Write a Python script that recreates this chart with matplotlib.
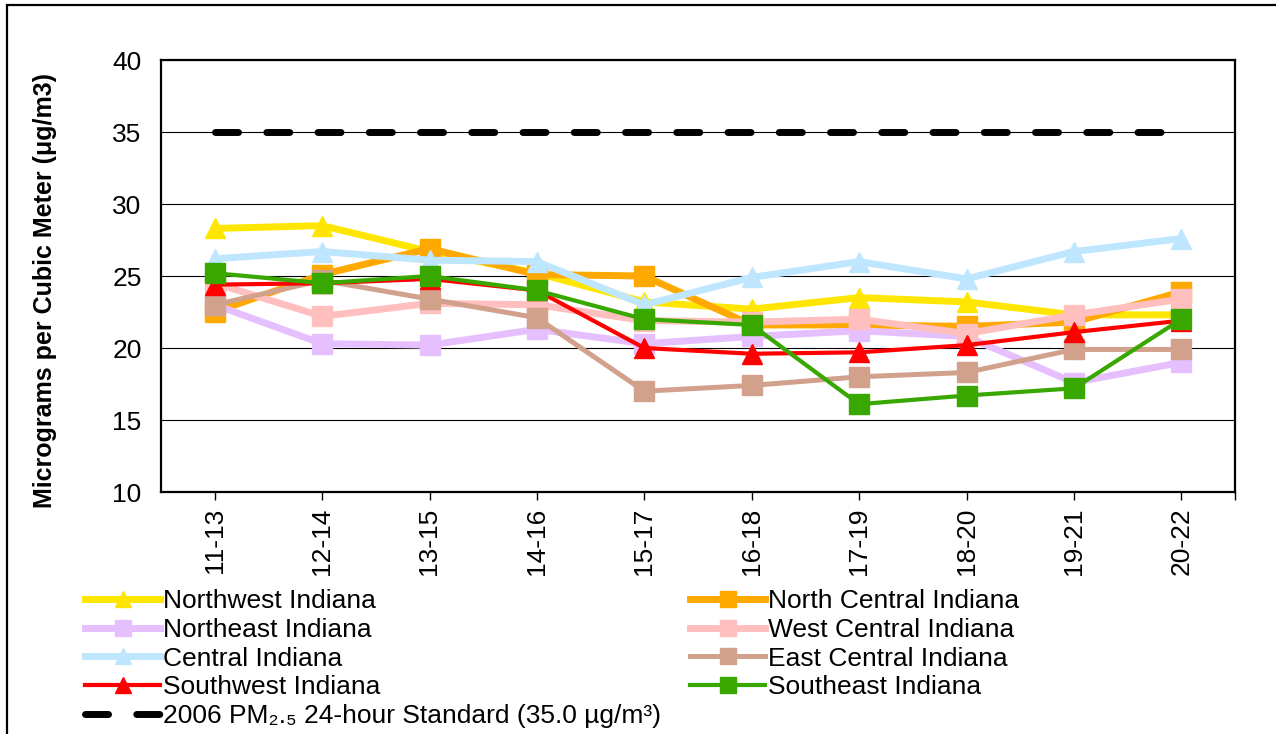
import matplotlib
matplotlib.use("Agg")
import matplotlib.pyplot as plt
from matplotlib.patches import Rectangle
from matplotlib.ticker import FixedLocator

plt.rcParams['font.family'] = ['Liberation Sans', 'DejaVu Sans']
plt.rcParams['lines.scale_dashes'] = False

categories = ["11-13", "12-14", "13-15", "14-16", "15-17", "16-18", "17-19", "18-20", "19-21", "20-22"]
northwest = [28.3, 28.5, 26.7, 25.2, 23.2, 22.7, 23.5, 23.2, 22.3, 22.3]
north_central = [22.5, 25.1, 26.9, 25.1, 25.0, 21.6, 21.6, 21.5, 21.8, 23.9]
northeast = [23.0, 20.3, 20.2, 21.3, 20.3, 20.8, 21.2, 20.8, 17.6, 19.0]
west_central = [24.5, 22.2, 23.1, 23.0, 21.9, 21.8, 22.0, 21.0, 22.3, 23.4]
central = [26.2, 26.7, 26.1, 26.0, 23.0, 24.9, 26.0, 24.8, 26.7, 27.6]
east_central = [23.0, 24.7, 23.4, 22.1, 17.0, 17.4, 18.0, 18.3, 19.9, 19.9]
southwest = [24.4, 24.5, 24.8, 24.0, 20.0, 19.6, 19.7, 20.2, 21.1, 21.9]
southeast = [25.2, 24.5, 25.0, 24.0, 22.0, 21.6, 16.1, 16.7, 17.2, 22.0]
standard = [35.0] * 10

labels = {
    'nw': "Northwest Indiana", 'nc': "North Central Indiana", 'ne': "Northeast Indiana",
    'wc': "West Central Indiana", 'c': "Central Indiana", 'ec': "East Central Indiana",
    'sw': "Southwest Indiana", 'se': "Southeast Indiana",
    'std': "2006 PM\u2082.\u2085 24-hour Standard (35.0 \u00b5g/m\u00b3)",
}

fig = plt.figure(figsize=(12.76, 7.34), dpi=100)
ax = fig.add_axes([161/1276, 1 - 492/734, (1235 - 161)/1276, (492 - 60)/734])

x = list(range(len(categories)))
series = [
    ('nw', northwest, '#FFE600', '^', 5.0),
    ('nc', north_central, '#FFA800', 's', 5.0),
    ('ne', northeast, '#E6BFFF', 's', 5.0),
    ('wc', west_central, '#FFBFBF', 's', 5.0),
    ('c', central, '#BFE6FF', '^', 5.0),
    ('ec', east_central, '#D1A18C', 's', 3.6),
    ('sw', southwest, '#FF0000', '^', 3.0),
    ('se', southeast, '#38A800', 's', 3.0),
]
handles = {}
for key, vals, col, mk, lw in series:
    ms = 14.5 if mk == 's' else 15
    h, = ax.plot(x, vals, color=col, lw=lw, marker=mk, ms=ms, mec=col, mfc=col,
                 label=labels[key], zorder=3, solid_joinstyle='round')
    handles[key] = h

hs, = ax.plot(x, standard, color='black', lw=5.0, dashes=(16.6, 20.3),
              dash_capstyle='round', label=labels['std'], zorder=3)
handles['std'] = hs

ax.set_xlim(-0.5, 9.5)
ax.set_ylim(10, 40)
ax.set_yticks([10, 15, 20, 25, 30, 35, 40])
ax.set_xticks(x)
ax.set_xticklabels(categories, rotation=90, fontsize=19)
ax.xaxis.set_minor_locator(FixedLocator([9.5]))
ax.tick_params(axis='x', which='both', length=6, width=1, direction='out', pad=5)
ax.tick_params(axis='y', length=0, pad=14, labelsize=19)
ax.yaxis.grid(True, color='black', lw=0.8)
ax.set_axisbelow(True)
for sp in ax.spines.values():
    sp.set_linewidth(1.6)
    sp.set_color('black')

ax.set_ylabel("Micrograms per Cubic Meter (\u03bcg/m3)", fontsize=18, fontweight='bold')
ax.yaxis.set_label_coords((57 - 161) / 1074, (492 - 290) / 432)

leg_kw = dict(frameon=False, fontsize=19, loc='upper left', borderpad=0, borderaxespad=0,
              handlelength=2.85, handletextpad=0.12, labelspacing=0.18, numpoints=1,
              markerscale=0.75)
col1 = ['nw', 'ne', 'c', 'sw', 'std']
col2 = ['nc', 'wc', 'ec', 'se']
leg1 = fig.legend([handles[k] for k in col1], [labels[k] for k in col1],
                  bbox_to_anchor=(85/1276, 1 - 589/734), **leg_kw)
leg2 = fig.legend([handles[k] for k in col2], [labels[k] for k in col2],
                  bbox_to_anchor=(690/1276, 1 - 589/734), **leg_kw)

fig.add_artist(Rectangle((7/1276, -0.1), 1.2, 1.1 - 5/734, transform=fig.transFigure,
                         fill=False, ec='black', lw=1.6))

fig.savefig("out.png", dpi=100)
